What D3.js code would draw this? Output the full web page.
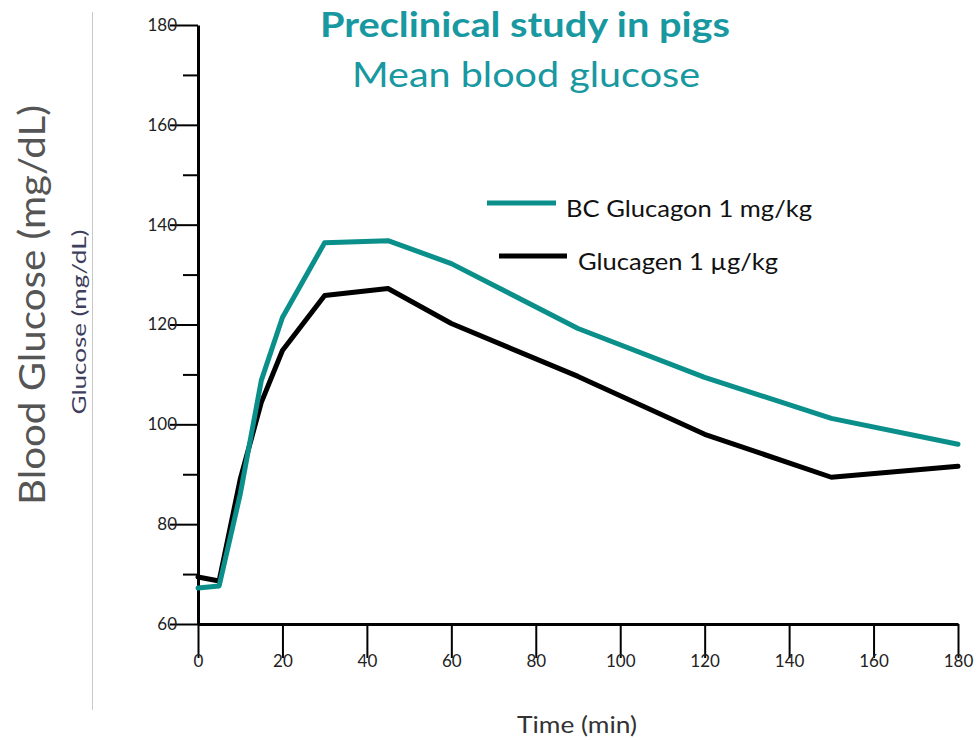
<!DOCTYPE html>
<html>
<head>
<meta charset="utf-8">
<script src="https://cdn.jsdelivr.net/npm/d3@7"></script>
<style>
	body { margin: 0; background: #ffffff; }
	text { font-family: Lato, 'Open Sans', sans-serif; }
</style>
</head>
<body>
<div id="chart"></div>
<script>
// time points (min) and mean blood glucose (mg/dL)
const times = [0, 5, 10, 15, 20, 30, 45, 60, 90, 120, 150, 180];
const bcGlucagon = [67.2, 67.6, 86, 108.8, 121.4, 136.4, 136.8, 132.2, 119.2, 109.4, 101.2, 96];
const glucagen = [69.4, 68.6, 89, 104.4, 114.8, 125.8, 127.2, 120.2, 109.6, 98, 89.4, 91.6];
const seriesNames = ['BC Glucagon 1 mg/kg', 'Glucagen 1 µg/kg'];
const xTicks = [0, 20, 40, 60, 80, 100, 120, 140, 160, 180];
const yTicks = [60, 70, 80, 90, 100, 110, 120, 130, 140, 150, 160, 170, 180];

const width = 979;
const height = 740;
const teal = '#0a8f8a';
const titleTeal = '#1898a0';

var svg = d3.select('#chart')
	.append('svg')
	.attr('width', width)
	.attr('height', height);

var xScale = d3.scaleLinear()
	.domain([0, 180])
	.range([198, 958]);

var yScale = d3.scaleLinear()
	.domain([60, 180])
	.range([624, 25]);

// y axis: labelled ticks every 20, short ticks in between
var yAxis = svg.append('g')
	.attr('transform', `translate(${xScale(0)},0)`)
	.call(d3.axisLeft(yScale)
		.tickValues(yTicks)
		.tickSizeOuter(0)
		.tickSizeInner(28)
		.tickPadding(-7)
		.tickFormat(d => d % 20 == 0 ? d : ''));
yAxis.selectAll('.tick line')
	.attr('x2', d => d % 20 == 0 ? -28 : -15)
	.attr('stroke-width', 2);
yAxis.select('.domain').attr('stroke-width', 3);
yAxis.selectAll('.tick text')
	.attr('font-size', 17)
	.attr('fill', '#222')
	.style('font-family', 'Lato, sans-serif');

var xAxis = svg.append('g')
	.attr('transform', `translate(0,${yScale(60)})`)
	.call(d3.axisBottom(xScale)
		.tickValues(xTicks)
		.tickSizeOuter(0)
		.tickSizeInner(34)
		.tickPadding(-3));
xAxis.selectAll('.tick line').attr('stroke-width', 2);
xAxis.select('.domain').attr('stroke-width', 3);
xAxis.selectAll('.tick text')
	.attr('font-size', 17)
	.attr('fill', '#222')
	.style('font-family', 'Lato, sans-serif');

var line = d3.line()
	.x(d => xScale(d[0]))
	.y(d => yScale(d[1]));

var series = [
	{name: seriesNames[0], values: times.map((t, i) => [t, bcGlucagon[i]]), color: teal},
	{name: seriesNames[1], values: times.map((t, i) => [t, glucagen[i]]), color: '#000000'}
];

// draw black first so the teal line sits on top
svg.append('g')
	.selectAll('path')
	.data(series.slice().reverse())
	.enter()
	.append('path')
	.attr('d', d => line(d.values))
	.attr('fill', 'none')
	.attr('stroke', d => d.color)
	.attr('stroke-width', 5)
	.attr('stroke-linejoin', 'round')
	.attr('stroke-linecap', 'round');

// legend
var legendPos = [{x1: 487, x2: 556, y: 203, tx: 566, len: 246}, {x1: 499, x2: 567, y: 256, tx: 578, len: 200}];
var legend = svg.append('g')
	.selectAll('g')
	.data(series)
	.enter()
	.append('g');
legend.append('line')
	.attr('x1', (d, i) => legendPos[i].x1)
	.attr('x2', (d, i) => legendPos[i].x2)
	.attr('y1', (d, i) => legendPos[i].y)
	.attr('y2', (d, i) => legendPos[i].y)
	.attr('stroke', d => d.color)
	.attr('stroke-width', 5);
legend.append('text')
	.attr('x', (d, i) => legendPos[i].tx)
	.attr('y', (d, i) => legendPos[i].y + 14)
	.attr('font-size', 24)
	.attr('fill', '#111')
	.attr('textLength', (d, i) => legendPos[i].len)
	.attr('lengthAdjust', 'spacingAndGlyphs')
	.text(d => d.name);

// titles
svg.append('text')
	.attr('x', 525)
	.attr('y', 37)
	.attr('text-anchor', 'middle')
	.attr('font-size', 35)
	.attr('font-weight', 'bold')
	.attr('fill', titleTeal)
	.attr('textLength', 410)
	.attr('lengthAdjust', 'spacingAndGlyphs')
	.text('Preclinical study in pigs');
svg.append('text')
	.attr('x', 526)
	.attr('y', 87)
	.attr('text-anchor', 'middle')
	.attr('font-size', 35)
	.attr('fill', titleTeal)
	.attr('textLength', 348)
	.attr('lengthAdjust', 'spacingAndGlyphs')
	.text('Mean blood glucose');

// axis titles
svg.append('text')
	.attr('transform', 'translate(45,305) rotate(-90)')
	.attr('text-anchor', 'middle')
	.attr('font-size', 36)
	.attr('fill', '#555')
	.attr('textLength', 400)
	.attr('lengthAdjust', 'spacingAndGlyphs')
	.text('Blood Glucose (mg/dL)');
svg.append('text')
	.attr('transform', 'translate(86,322) rotate(-90)')
	.attr('text-anchor', 'middle')
	.attr('font-size', 19)
	.attr('fill', '#3e3e5e')
	.attr('textLength', 185)
	.attr('lengthAdjust', 'spacingAndGlyphs')
	.text('Glucose (mg/dL)');
svg.append('line')
	.attr('x1', 92.5)
	.attr('x2', 92.5)
	.attr('y1', 12)
	.attr('y2', 710)
	.attr('stroke', '#c8c8c8')
	.attr('stroke-width', 1);
svg.append('text')
	.attr('x', 577)
	.attr('y', 733)
	.attr('text-anchor', 'middle')
	.attr('font-size', 23)
	.attr('fill', '#333')
	.attr('textLength', 120)
	.attr('lengthAdjust', 'spacingAndGlyphs')
	.text('Time (min)');
</script>
</body>
</html>
